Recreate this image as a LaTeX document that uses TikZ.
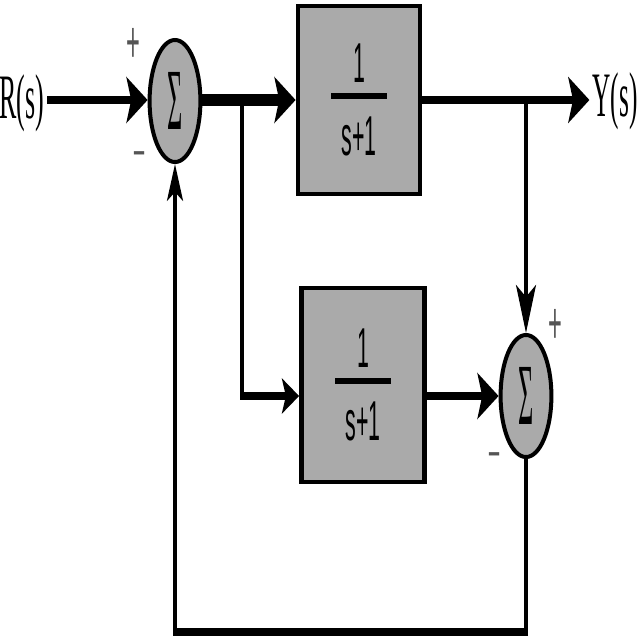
\documentclass[tikz,border=0pt]{standalone}
\usepackage{fontspec}
\setmainfont{Liberation Serif}
\newfontfamily\fracfont{Liberation Sans}
\usetikzlibrary{shapes.geometric, arrows.meta, positioning}
\definecolor{blockgray}{RGB}{170,170,170}
\definecolor{signgray}{RGB}{85,85,85}
\newcommand{\blockfrac}{\scalebox{0.38}[1]{1}\\[-28.6pt]\rule{1.38cm}{0.15cm}\\\scalebox{0.38}[1]{s+1}}
\newcommand{\sumsign}{\scalebox{0.3}[1]{Σ}}

\begin{document}
\begin{tikzpicture}[
    x=0.025cm, y=-0.025cm,
    sumnode/.style={ellipse, draw, line width=0.1cm, fill=blockgray, minimum width=1.27cm, minimum height=3.05cm, inner sep=0pt, font=\fontsize{62}{62}\selectfont},
    blocknode/.style={rectangle, draw, line width=0.12cm, fill=blockgray, align=center, inner sep=0pt, font=\fracfont\fontsize{40}{40}\selectfont},
    sigtext/.style={inner sep=2pt, font=\fontsize{45}{45}\selectfont},
    signtext/.style={inner sep=0pt, text=signgray, font=\fracfont\fontsize{42}{42}\selectfont},
    hline/.style={line width=0.2cm},
    vline/.style={line width=0.1cm},
    busline/.style={line width=0.28cm},
    harrow/.style={-{Stealth[length=0.53cm, width=1.15cm, inset=0.12cm]}},
    sarrow/.style={-{Stealth[length=0.43cm, width=0.88cm, inset=0.1cm]}},
    varrow/.style={-{Stealth[length=1.2cm, width=0.5cm, inset=0.3cm]}},
    farrow/.style={-{Stealth[length=0.92cm, width=0.4cm, inset=0.22cm]}}
]
    \useasboundingbox (0,0) rectangle (640,640);

    \node[sumnode] (s1) at (175,101) {\sumsign};
    \node[blocknode, minimum width=3.05cm, minimum height=4.7cm] (g1) at (359,100) {\blockfrac};
    \node[blocknode, minimum width=3.075cm, minimum height=4.85cm] (g2) at (363,385) {\blockfrac};
    \node[sumnode] (s2) at (526,396) {\sumsign};
    \node[sigtext] (rs) at (22,103) {\scalebox{0.41}[1]{R(s)}};
    \node[sigtext] (ys) at (615,101) {\scalebox{0.40}[1]{Y(s)}};

    % signs at the summing points
    \node[signtext] (p1) at (133,45) {\scalebox{0.4}[1]{+}};
    \node[signtext, font=\fracfont\fontsize{30}{30}\selectfont] (m1) at (140,158) {-};
    \node[signtext] (p2) at (555,326) {\scalebox{0.4}[1]{+}};
    \node[signtext, font=\fracfont\fontsize{30}{30}\selectfont] (m2) at (495,459) {-};

    \coordinate (b1) at (242,100);
    \coordinate (b2) at (s2.north |- g1.east);
    \coordinate (fb) at (0,632);

    \draw[hline, harrow] (rs.east |- g1.west) -- (s1.west |- g1.west);
    \draw[busline, harrow] (s1.east |- g1.west) -- (g1.west);
    \draw[hline, harrow] (g1.east) -- (ys.west |- g1.east);
    \draw[vline] (b1) -- (b1 |- s2.west);
    \draw[hline, sarrow, shorten <=-0.05cm] (b1 |- s2.west) -- (g2.west |- s2.west);
    \draw[vline, varrow] (b2) -- (s2.north);
    \draw[hline, harrow] (g2.east |- s2.west) -- (s2.west);

    % feedback
    \draw[vline] (s2.south) -- (s2.south |- fb);
    \draw[hline, shorten <=-0.05cm, shorten >=-0.05cm] (s2.south |- fb) -- (s1.south |- fb);
    \draw[vline, farrow] (s1.south |- fb) -- (s1.south);
\end{tikzpicture}
\end{document}
